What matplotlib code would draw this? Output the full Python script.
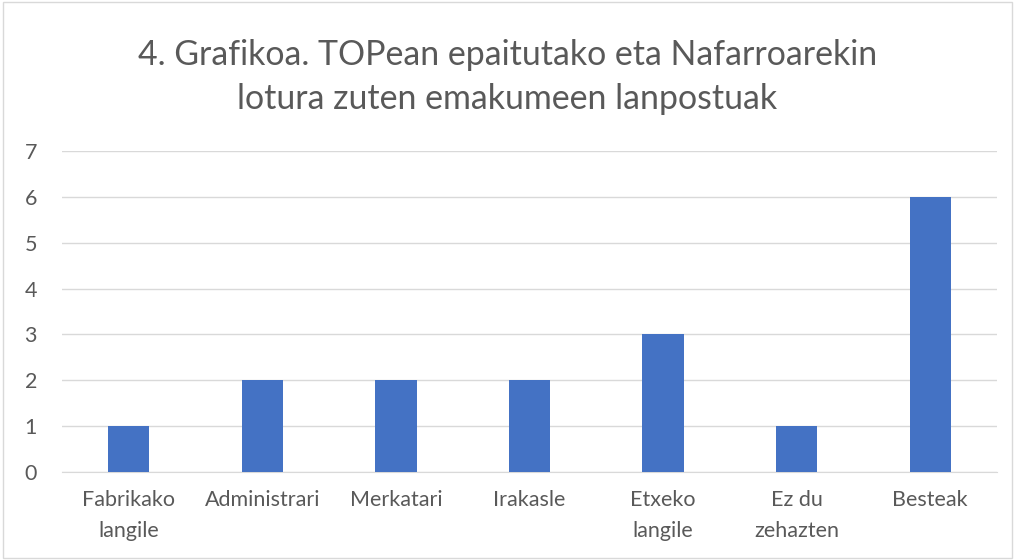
import numpy as np
import matplotlib.pyplot as plt
from matplotlib.patches import Rectangle

lanpostuak = ["Fabrikako\nlangile", "Administrari", "Merkatari", "Irakasle",
              "Etxeko\nlangile", "Ez du\nzehazten", "Besteak"]
kopurua = [1, 2, 2, 2, 3, 1, 6]
y_ticks = [0, 1, 2, 3, 4, 5, 6, 7]

plt.rcParams['font.family'] = ['Lato', 'DejaVu Sans']
gris = '#595959'

fig = plt.figure(figsize=(10.15, 5.6), dpi=100)
ax = fig.add_axes([62/1015, 1-472/560, 935/1015, 321/560])

x = np.arange(len(lanpostuak))
ax.bar(x, kopurua, width=0.31, color='#4472C4', zorder=3)

ax.set_xlim(-0.5, len(lanpostuak)-0.5)
ax.set_ylim(0, 7)
ax.set_yticks(y_ticks)
ax.set_xticks(x)
ax.set_xticklabels(lanpostuak, fontsize=15.5, color=gris, linespacing=1.7)
ax.tick_params(axis='y', labelsize=15.5, labelcolor=gris, length=0, pad=18)
ax.tick_params(axis='x', length=0, pad=13)
ax.grid(axis='y', color='#d9d9d9', linewidth=1, zorder=0)
for s in ['top', 'right', 'left']:
    ax.spines[s].set_visible(False)
ax.spines['bottom'].set_color('#d9d9d9')

fig.text(0.5, 1-77/560, "4. Grafikoa. TOPean epaitutako eta Nafarroarekin\nlotura zuten emakumeen lanpostuak",
         ha='center', va='center', fontsize=24.4, color=gris, linespacing=1.45)

fig.patches.append(Rectangle((0.003, 0.003), 0.994, 0.994, transform=fig.transFigure,
                             fill=False, edgecolor='#d9d9d9', linewidth=1))

fig.savefig("out.png", dpi=100)
